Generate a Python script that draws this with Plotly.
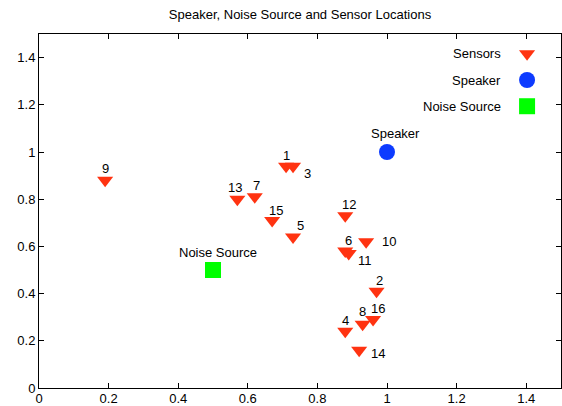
import plotly.graph_objects as go

# Sensor positions (metres)
sensor_ids = ["1", "2", "3", "4", "5", "6", "7", "8", "9", "10", "11", "12", "13", "14", "15", "16"]
sensor_x = [0.71, 0.97, 0.73, 0.88, 0.73, 0.88, 0.62, 0.93, 0.19, 0.94, 0.89, 0.88, 0.57, 0.92, 0.67, 0.96]
sensor_y = [0.94, 0.41, 0.94, 0.24, 0.64, 0.58, 0.81, 0.27, 0.88, 0.62, 0.57, 0.73, 0.80, 0.16, 0.71, 0.29]

speaker_x = [1.0]
speaker_y = [1.0]
noise_x = [0.5]
noise_y = [0.5]

x_ticks = [0, 0.2, 0.4, 0.6, 0.8, 1, 1.2, 1.4]
y_ticks = [0, 0.2, 0.4, 0.6, 0.8, 1, 1.2, 1.4]

# label offsets in pixels (xshift, yshift) for each sensor number
label_shift = [
    (0, 11), (3, 11), (14, -7), (0, 11), (7, 11), (3, 11), (2, 11), (0, 13),
    (0, 12), (23, 0), (16, -7), (4, 11), (-2, 12), (19, -3), (4, 10), (5, 11),
]

RED = "#ff3311"
BLUE = "#0d3bff"
GREEN = "#00ff00"
FONT = "Liberation Sans, Arial, sans-serif"

fig = go.Figure()

fig.add_trace(go.Scatter(
    x=sensor_x, y=sensor_y, mode="markers",
    marker=dict(symbol="triangle-down", size=14, color=RED, opacity=1, line=dict(width=0)),
    showlegend=False,
))
fig.add_trace(go.Scatter(
    x=speaker_x, y=speaker_y, mode="markers",
    marker=dict(symbol="circle", size=16, color=BLUE, opacity=1, line=dict(width=0)),
    showlegend=False,
))
fig.add_trace(go.Scatter(
    x=noise_x, y=noise_y, mode="markers",
    marker=dict(symbol="square", size=16, color=GREEN, opacity=1, line=dict(width=0)),
    showlegend=False,
))

annotations = []
for sid, x, y, (dx, dy) in zip(sensor_ids, sensor_x, sensor_y, label_shift):
    annotations.append(dict(
        x=x, y=y, text=sid, showarrow=False, xshift=dx, yshift=dy,
        xanchor="center", yanchor="middle", font=dict(size=13, color="black", family=FONT),
    ))
annotations.append(dict(x=speaker_x[0], y=speaker_y[0], text="Speaker", showarrow=False,
                        yshift=19, xshift=8, font=dict(size=13, color="black", family=FONT)))
annotations.append(dict(x=noise_x[0], y=noise_y[0], text="Noise Source", showarrow=False,
                        yshift=18, xshift=5, font=dict(size=13, color="black", family=FONT)))

# key in the upper-right corner: text right-aligned, symbol to its right
key_names = ["Sensors", "Speaker", "Noise Source"]
key_symbols = ["triangle-down", "circle", "square"]
key_sizes = [14, 16, 16]
key_colors = [RED, BLUE, GREEN]
key_rows = [0.944, 0.870, 0.796]
key_sym_x = 0.935
key_text_x = 0.888

fig.add_trace(go.Scatter(
    x=[key_sym_x] * 3, y=key_rows, mode="markers", xaxis="x2", yaxis="y2",
    marker=dict(symbol=key_symbols, size=key_sizes, color=key_colors, opacity=1, line=dict(width=0)),
    showlegend=False, hoverinfo="skip",
))
for name, yy in zip(key_names, key_rows):
    annotations.append(dict(
        x=key_text_x, y=yy, xref="x2", yref="y2", text=name, showarrow=False,
        xanchor="right", yanchor="middle", font=dict(size=13, color="black", family=FONT),
    ))

axis_common = dict(
    showgrid=False, zeroline=False, showline=True, linecolor="black", linewidth=1,
    mirror="allticks", ticks="inside", ticklen=5, tickcolor="black", tickwidth=1,
    tickfont=dict(size=13, color="black", family=FONT), automargin=False,
)

fig.update_layout(
    width=562, height=406,
    margin=dict(l=39, r=1, t=34, b=18, autoexpand=False),
    paper_bgcolor="white", plot_bgcolor="white",
    title=dict(text="Speaker, Noise Source and Sensor Locations", x=0.5, xref="paper",
               y=1 - 14 / 406, yref="container", yanchor="middle", xanchor="center",
               font=dict(size=13, color="black", family=FONT)),
    xaxis=dict(range=[0, 1.5], tickvals=x_ticks, ticktext=[f"{v:g}" for v in x_ticks],
               ticklabelstandoff=-2, **axis_common),
    yaxis=dict(range=[0, 1.5], tickvals=y_ticks, ticktext=[f"{v:g}" for v in y_ticks], **axis_common),
    xaxis2=dict(range=[0, 1], overlaying="x", visible=False),
    yaxis2=dict(range=[0, 1], overlaying="y", visible=False),
    annotations=annotations,
    font=dict(family=FONT, color="black"),
)

fig.write_html("out.html")
